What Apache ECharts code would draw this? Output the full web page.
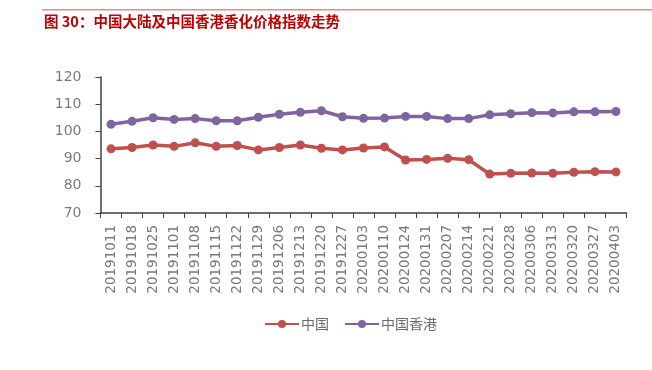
<!DOCTYPE html>
<html><head><meta charset="utf-8">
<script src="https://cdn.jsdelivr.net/npm/echarts@6/dist/echarts.min.js"></script>
<style>html,body{margin:0;padding:0;background:#fff}#c{width:652px;height:370px}</style>
</head><body><div id="c"></div>
<script>
const categories = ['20191011','20191018','20191025','20191101','20191108','20191115','20191122','20191129','20191206','20191213','20191220','20191227','20200103','20200110','20200124','20200131','20200207','20200214','20200221','20200228','20200306','20200313','20200320','20200327','20200403'];
const chinaValues = [93.6,94.1,95.0,94.5,95.8,94.5,94.8,93.2,94.1,95.0,93.8,93.2,93.9,94.3,89.5,89.7,90.1,89.6,84.3,84.6,84.7,84.6,85.0,85.2,85.1];
const hkValues = [102.6,103.7,105.0,104.4,104.7,103.9,103.9,105.2,106.3,107.0,107.6,105.4,104.8,104.9,105.5,105.5,104.7,104.7,106.1,106.5,106.9,106.8,107.2,107.2,107.3];
const seriesNames = ['中国','中国香港'];
const yTicks = {min:70, max:120, interval:10};

const font = 'DejaVu Sans, Verdana, sans-serif';
const chart = echarts.init(document.getElementById('c'));
chart.setOption({
  animation:false,
  backgroundColor:'#fff',
  graphic:[
    {type:'rect', shape:{x:42,y:9,width:610,height:1.5}, style:{fill:'#e58a8a'}},
    {type:'text', left:44, top:14, style:{text:'图 30：中国大陆及中国香港香化价格指数走势', fill:'#c00000', font:'bold 14.5px "Noto Sans CJK SC", sans-serif'}}
  ],
  grid:{left:100.5, right:25.5, top:77, bottom:157, containLabel:false},
  legend:{
    top:312, left:259,
    data:seriesNames,
    itemWidth:34, itemHeight:10, itemGap:15,
    textStyle:{color:'#6b6b6b', fontSize:14, fontFamily:'"Noto Sans CJK SC", sans-serif', padding:[0,0,0,-3]}
  },
  xAxis:{
    type:'category', data:categories, boundaryGap:true,
    axisLine:{lineStyle:{color:'#404040', width:1.5}},
    axisTick:{show:true, alignWithLabel:false, length:5, lineStyle:{color:'#404040'}},
    axisLabel:{rotate:90, interval:0, color:'#7a7a7a', fontSize:13.5, fontFamily:font, margin:12}
  },
  yAxis:{
    type:'value', min:yTicks.min, max:yTicks.max, interval:yTicks.interval,
    splitLine:{show:false},
    axisLine:{show:true, lineStyle:{color:'#404040', width:1.5}},
    axisTick:{show:true, length:5, lineStyle:{color:'#404040'}},
    axisLabel:{color:'#7a7a7a', fontSize:14, fontFamily:font, margin:19}
  },
  series:[
    {name:seriesNames[0], type:'line', data:chinaValues, symbol:'circle', symbolSize:9,
     lineStyle:{color:'#C0504D', width:3.5}, itemStyle:{color:'#C0504D'}},
    {name:seriesNames[1], type:'line', data:hkValues, symbol:'circle', symbolSize:9,
     lineStyle:{color:'#8064A2', width:3.5}, itemStyle:{color:'#8064A2'}}
  ]
});
</script></body></html>
